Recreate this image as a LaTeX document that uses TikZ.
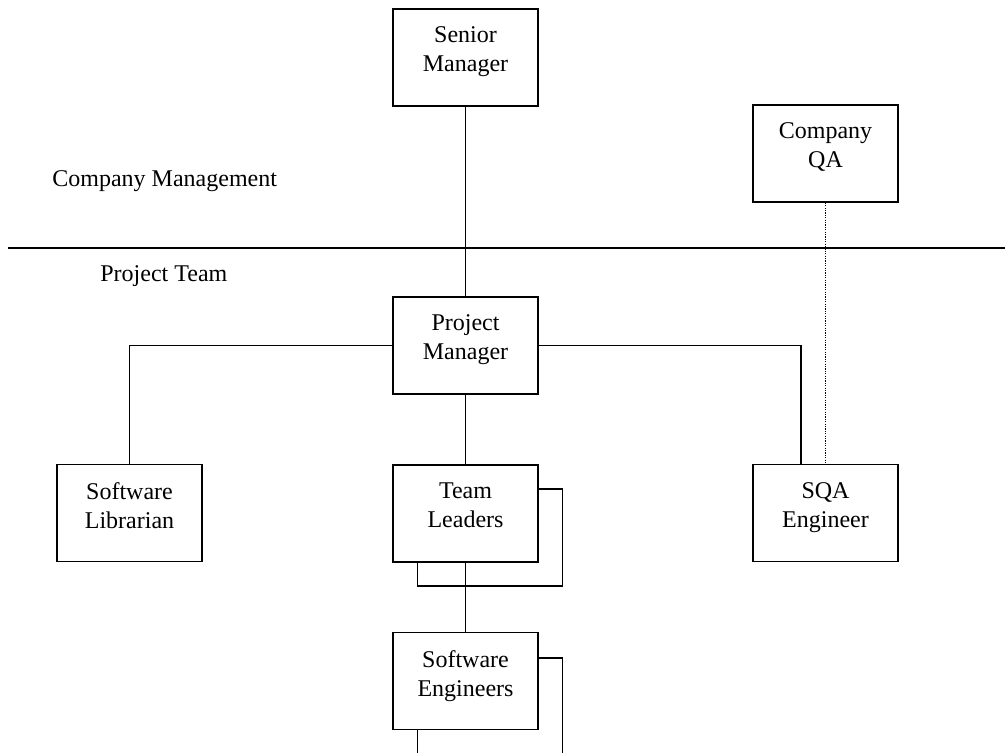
\documentclass[tikz,border=0pt]{standalone}
\usepackage{fontspec}
\setmainfont{Liberation Serif}
\usetikzlibrary{calc}
\begin{document}
\begin{tikzpicture}[x=0.5pt,y=-0.5pt,
  box/.style={draw,line width=0.75pt,fill=white,minimum width=72.5pt,minimum height=48.5pt,inner sep=0pt},
  boxtext/.style={anchor=north,inner sep=0pt,align=center,font=\fontsize{12}{14.5}\selectfont},
  lbl/.style={anchor=base west,inner sep=0pt,font=\fontsize{12}{14.5}\selectfont},
  conn/.style={line width=0.85pt},
  dotconn/.style={line width=0.6pt,dash pattern=on 0.6pt off 0.6pt}]
\useasboundingbox (0,0) rectangle (1005,752);
\clip (0,0) rectangle (1005,752);
% divider
\coordinate (divl) at (8,248);
\coordinate (divr) at (1005,248);
\draw[conn] (divl) -- (divr);
\node[lbl] (cm) at (52,186) {Company Management};
\node[lbl] (pt) at (100,281) {Project Team};
% back boxes
\node[box] (tlback) at (490,537.5) {};
\node[box] (seback) at (490,706.5) {};
% boxes
\node[box] (sm) at (465.5,57.5) {};
\node[box] (qa) at (825.5,153.5) {};
\node[box] (pm) at (465.5,345.5) {};
\node[box] (sl) at (129.5,513) {};
\node[box] (tl) at (465.5,513.5) {};
\node[box] (sqa) at (825.5,513) {};
\node[box] (se) at (465.5,681) {};
% texts
\node[boxtext] (smt) at ($(sm.north)+(0,18)$) {Senior\\Manager};
\node[boxtext] (qat) at ($(qa.north)+(0,18)$) {Company\\QA};
\node[boxtext] (pmt) at ($(pm.north)+(0,18)$) {Project\\Manager};
\node[boxtext] (slt) at ($(sl.north)+(0,18)$) {Software\\Librarian};
\node[boxtext] (tlt) at ($(tl.north)+(0,18)$) {Team\\Leaders};
\node[boxtext] (sqat) at ($(sqa.north)+(0,18)$) {SQA\\Engineer};
\node[boxtext] (set) at ($(se.north)+(0,18)$) {Software\\Engineers};
% connectors
\coordinate (sqain) at ($(sqa.north)+(-24.5,0)$);
\draw[conn] (sm.south) -- (pm.north);
\draw[conn] (pm.west) -| (sl.north);
\draw[conn] (pm.east) -| (sqain);
\draw[conn] (pm.south) -- (tl.north);
\draw[conn] (tl.south) -- (se.north);
\draw[dotconn] (qa.south) -- (sqa.north);
\end{tikzpicture}
\end{document}
